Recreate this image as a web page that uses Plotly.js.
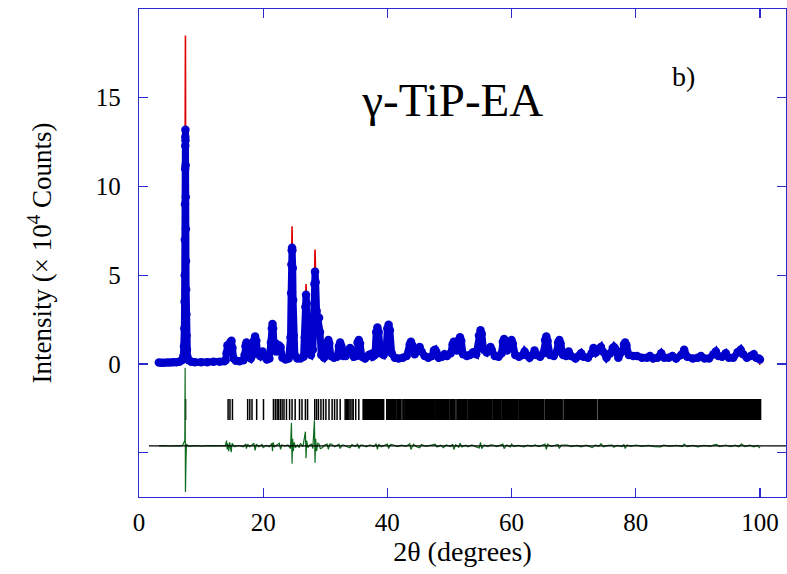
<!DOCTYPE html>
<html>
<head>
<meta charset="utf-8">
<script src="https://cdn.plot.ly/plotly-3.0.1.min.js"></script>
<style>html,body{margin:0;padding:0;background:#fff}#chart{width:787px;height:574px}</style>
</head>
<body>
<div id="chart"></div>
<script>
const obsTheta = [
 3.2,3.6,4.0,4.5,5.0,5.5,6.0,6.5,6.9,7.15,7.25,7.3,7.34,7.37,7.39,7.41,7.43,7.45,7.46,7.48,7.49,7.51,7.53,7.55,7.57,7.59,7.62,7.66,7.72,7.8,8.0,8.4,
 9.0,10.0,11.0,12.0,13.0,13.7,13.95,14.1,14.25,14.45,14.6,14.75,14.9,15.05,15.25,15.6,16.2,16.8,
 17.0,17.15,17.3,17.45,17.65,18.0,18.3,18.5,18.7,18.9,19.1,19.5,19.9,20.2,20.6,21.0,
 21.25,21.4,21.5,21.6,21.75,22.1,22.5,22.8,23.1,23.6,24.1,24.4,24.5,24.55,24.6,24.65,24.7,24.76,24.82,24.9,25.1,25.5,26.0,26.5,
 26.7,26.8,26.9,27.0,27.1,27.3,27.7,28.0,28.15,28.25,28.35,28.45,28.6,28.8,29.0,29.15,29.35,29.8,30.2,30.35,30.5,30.65,30.9,31.4,31.9,
 32.2,32.4,32.6,32.9,33.3,33.8,34.0,34.2,34.6,35.0,35.2,35.4,35.6,35.9,36.4,37.0,37.3,37.6,38.0,38.2,38.4,38.6,38.9,39.4,39.8,40.0,40.2,40.4,40.7,41.2,41.8,42.5,43.1,
 43.6,43.8,44.0,44.4,44.9,45.2,45.5,46.0,46.6,47.2,47.5,47.7,47.9,48.3,48.8,49.2,49.6,50.2,50.5,50.7,50.9,51.2,51.5,51.7,51.9,52.2,52.8,53.3,53.8,54.3,
 54.75,55.0,55.2,55.5,56.0,56.4,56.6,56.8,57.3,57.9,58.4,58.6,58.8,59.0,59.3,59.8,60.0,60.2,60.6,61.2,61.8,62.1,62.4,62.9,63.4,63.7,64.0,64.6,65.1,
 65.4,65.6,65.8,66.2,66.8,67.3,67.5,67.7,67.9,68.3,68.8,69.2,69.6,70.3,70.8,71.2,71.6,72.3,72.9,
 73.2,73.6,74.1,74.4,74.7,75.3,75.9,76.3,76.5,76.7,77.2,77.8,78.1,78.3,78.5,78.9,79.6,80.2,81.0,81.8,82.3,82.8,83.5,84.1,84.6,85.3,85.9,86.5,87.3,87.8,88.3,89.2,90.0,90.5,91.1,91.8,92.5,92.9,93.3,93.9,94.5,95.0,95.7,96.4,96.9,97.3,97.9,98.5,99.0,99.4,99.8,100.0
];
const obsCounts = [
 0.08,0.07,0.07,0.08,0.08,0.09,0.1,0.12,0.2,0.45,1.0,2.0,3.5,5.0,7.0,9.0,11.0,12.3,12.8,13.2,12.6,11.2,9.4,7.6,5.8,4.2,2.8,1.6,0.8,0.4,0.2,0.12,
 0.1,0.1,0.1,0.12,0.12,0.15,0.2,0.6,1.05,0.95,0.9,1.25,1.3,0.9,0.3,0.18,0.15,0.2,
 0.5,1.0,1.2,1.0,0.4,0.3,0.5,1.3,1.55,1.3,0.6,0.45,0.7,0.4,0.25,0.3,
 1.2,2.0,2.25,2.0,1.0,0.7,1.05,0.95,0.35,0.25,0.3,1.5,4.0,5.6,6.4,6.55,6.4,5.4,3.6,1.6,0.5,0.3,0.3,0.4,
 1.5,3.2,3.9,3.4,1.8,0.6,0.5,0.8,2.5,4.5,5.2,4.6,3.0,2.6,2.6,1.8,0.5,0.35,0.6,1.2,1.35,1.15,0.45,0.35,0.4,
 1.0,1.2,1.0,0.45,0.45,0.8,0.9,0.75,0.4,0.45,1.2,1.35,1.15,0.4,0.3,0.5,0.55,0.4,0.5,1.8,2.05,1.8,0.6,0.5,0.8,2.0,2.2,1.9,0.6,0.35,0.3,0.35,0.45,
 1.1,1.25,1.05,0.55,0.75,0.95,0.7,0.45,0.35,0.45,0.75,0.8,0.65,0.35,0.4,0.55,0.45,0.6,1.1,1.25,0.95,0.75,1.35,1.5,1.3,0.55,0.45,0.5,0.65,0.55,
 1.6,1.9,1.7,0.8,0.65,0.85,0.95,0.8,0.45,0.4,0.6,1.25,1.4,1.15,0.75,1.25,1.35,1.15,0.5,0.4,0.5,0.7,0.5,0.35,0.5,0.75,0.5,0.4,0.6,
 1.35,1.55,1.3,0.5,0.45,0.7,1.2,1.35,1.15,0.5,0.45,0.7,0.45,0.3,0.45,0.6,0.4,0.35,0.6,
 0.9,0.65,0.85,0.95,0.7,0.35,0.6,0.9,0.95,0.85,0.35,0.7,1.1,1.2,1.05,0.5,0.45,0.45,0.35,0.35,0.45,0.3,0.35,0.6,0.35,0.35,0.45,0.3,0.5,0.8,0.4,0.3,0.35,0.45,0.3,0.3,0.55,0.7,0.45,0.4,0.6,0.35,0.35,0.65,0.8,0.55,0.35,0.45,0.55,0.35,0.3,0.25
];
// Calculated profile: where it differs from the observed one (peak tips)
const calcPeakTheta  = [7.48, 21.5, 24.65, 26.9, 28.35, 38.4, 43.8, 50.7, 58.8, 67.7, 78.3, 100.0];
const calcPeakCounts = [18.5, 2.35, 7.75, 4.5, 6.45, 2.15, 1.35, 1.35, 1.5, 1.45, 1.3, -0.05];

// Difference curve (obs - calc), relative to its own baseline
const diffTheta = [
 3.2,4.0,5.0,6.0,6.8,7.1,7.3,7.38,7.43,7.46,
 7.48,7.5,7.53,7.57,7.65,8.0,9.0,10.0,11.0,12.0,
 13.0,13.9,14.1,14.2,14.3,14.45,14.6,14.75,14.85,15.0,
 15.1,15.4,16.0,16.8,17.2,17.3,17.5,17.8,18.2,18.5,
 18.7,18.9,19.3,19.8,20.0,20.5,21.0,21.4,21.5,21.6,
 21.8,22.2,22.6,22.8,23.0,23.5,24.0,24.4,24.55,24.65,
 24.75,24.85,25.0,25.2,25.5,25.8,26.0,26.4,26.8,26.9,
 27.0,27.2,27.5,27.8,28.0,28.25,28.35,28.45,28.6,28.8,
 29.0,29.2,29.5,29.9,30.3,30.5,30.7,31.0,31.5,32.2,
 32.4,32.7,33.0,33.5,34.0,34.3,34.8,35.2,35.4,35.7,
 36.0,36.6,37.2,37.8,38.2,38.4,38.6,39.0,39.6,40.0,
 40.2,40.5,41.0,41.6,42.3,43.0,43.6,43.8,44.2,44.7,
 45.2,45.5,46.2,47.0,47.7,48.0,48.6,49.0,49.5,50.2,
 50.5,50.7,51.0,51.5,51.7,52.0,52.6,53.0,53.6,54.2,
 54.8,55.0,55.2,55.6,56.2,56.6,57.0,57.6,58.2,58.6,
 58.8,59.2,59.8,60.0,60.4,61.0,62.0,62.6,63.2,63.8,
 64.4,65.0,65.4,65.6,65.8,66.4,67.0,67.5,67.7,68.0,
 69.0,69.6,70.5,71.2,72.0,73.0,73.5,74.0,74.4,74.8,
 75.5,76.2,76.5,77.0,77.8,78.1,78.3,78.6,79.2,80.0,
 81.0,82.0,83.0,84.0,84.5,85.5,86.5,87.5,87.8,88.3,
 89.2,90.0,91.0,92.0,92.6,93.0,93.5,94.5,95.3,96.0,
 96.6,97.0,97.6,98.4,99.0,99.6,100.0
];
const diffCounts = [
 0,0.02,-0.02,0.02,0,0.08,0.25,0.3,4.4,-1.0,
 -2.6,1.5,-1.5,-0.8,0.1,-0.03,0.02,-0.02,0.02,0,
 0.02,0,0.3,-0.2,0.15,-0.3,0.2,-0.1,-0.35,0.15,
 0.1,-0.05,0.02,-0.05,0.12,-0.15,0.1,-0.05,0.05,0.15,
 -0.25,0.1,-0.05,0.08,-0.1,0.03,-0.05,0.15,-0.3,0.2,
 -0.05,0.05,0.15,-0.2,0.05,0,0.05,-0.15,1.3,-1.0,
 0.4,-0.3,0.2,-0.1,0.05,-0.1,0.15,-0.05,0.8,-0.7,
 0.3,-0.1,0.05,0.1,-0.15,1.45,-0.95,0.4,-0.3,0.15,
 0.1,-0.15,-0.1,0.05,0.1,-0.2,0.1,0.1,-0.05,0.1,
 -0.15,0.05,0.05,-0.05,-0.1,0.08,-0.03,0.1,-0.15,0.05,
 0.05,-0.05,0.06,-0.04,0.12,-0.2,0.1,-0.05,0.05,0.1,
 -0.15,0.08,0.05,-0.04,0.04,-0.03,0.12,-0.2,0.1,-0.05,
 -0.1,0.08,-0.03,0.04,0.1,-0.06,0.04,-0.1,0.05,-0.04,
 0.1,-0.2,0.06,-0.08,0.15,-0.06,0.04,-0.05,0.06,-0.04,
 -0.12,0.2,-0.15,0.05,-0.04,0.06,0.05,-0.04,0.04,0.1,
 -0.15,0.05,-0.06,0.1,-0.04,0.03,-0.05,0.04,-0.03,0.05,
 -0.04,0.03,0.1,-0.2,0.1,-0.03,0.04,0.08,-0.15,0.05,
 0.05,-0.04,0.03,-0.05,0.04,-0.1,0.05,-0.04,0.12,-0.05,
 0.03,0.05,-0.08,0.03,-0.04,0.08,-0.15,0.05,-0.03,0.05,
 -0.03,0.03,-0.04,-0.05,0.04,-0.03,0.03,-0.04,0.1,-0.04,
 0.03,-0.05,0.03,-0.03,0.06,0.08,-0.04,0.05,-0.04,0.04,
 -0.05,0.1,-0.04,0.04,-0.05,0.03,-0.12
];

// Bragg reflection positions: well separated (low angle) and crowded (high angle)
const braggThetaSparse = [7.5,14.35,14.65,15.05,17.5,17.85,18.2,18.95,20.05,21.65,21.95,22.25,22.45,22.75,23.05,23.35,23.75,24.25,24.65,25.15,25.85,26.25,26.8,27.15,28.3,28.6,28.9,29.3,29.7,30.1,30.6,31.1,31.5,31.9,32.4,33.2,33.4,33.6,33.8,34.0,34.3,34.5,34.9,35.4];
const braggThetaDense = [36.2,36.4,36.6,36.8,37.0,37.2,37.4,37.6,37.8,38.0,38.2,38.4,38.6,38.8,39.0,39.3,40.0,40.2,40.4,40.6,40.8,41.0,41.3,41.7,42.1,42.6,43.0,43.2,43.4,43.6,43.8,44.0,44.2,44.4,44.6,44.8,45.0,45.2,45.4,45.6,45.8,46.0,46.2,46.4,46.6,46.8,47.0,47.2,47.4,47.6,48.0,48.2,48.4,48.6,48.8,49.0,49.2,49.4,49.6,49.8,50.2,50.6,50.8,51.3,51.5,51.7,51.9,52.1,52.3,52.5,52.7,53.1,53.3,
 53.5,53.75,54.0,54.25,54.5,54.75,55.0,55.25,55.5,55.75,56.0,56.25,56.5,56.75,57.15,57.4,57.65,57.9,58.15,58.55,58.8,59.05,59.45,59.7,59.95,60.2,60.45,60.7,60.95,61.35,61.6,61.85,62.1,62.35,62.6,62.85,63.1,63.35,63.6,63.85,64.1,64.35,64.6,64.85,65.1,65.55,65.8,66.05,66.3,66.55,66.8,67.05,67.3,67.55,67.8,68.05,68.55,68.8,69.05,69.3,69.55,69.8,70.05,70.3,70.55,70.8,71.05,71.3,71.55,71.8,72.05,72.3,72.55,72.8,73.05,73.3,73.55,74.05,74.3,74.55,74.8,75.05,75.3,75.55,75.8,76.05,76.3,76.55,76.8,77.05,77.3,77.55,77.8,78.05,78.3,78.55,78.8,79.05,79.3,79.55,79.8,80.05,80.3,80.55,80.8,81.05,81.3,81.55,81.8,82.05,82.3,82.55,82.8,83.05,83.3,83.55,83.8,84.05,84.3,84.55,84.8,85.05,85.3,85.55,85.8,86.05,86.3,86.55,86.8,87.05,87.3,87.55,87.8,88.05,88.3,88.55,88.8,89.05,89.3,89.55,89.8,90.05,90.3,90.55,90.8,91.05,91.3,91.55,91.8,92.05,92.3,92.55,92.8,93.05,93.3,93.55,93.8,94.05,94.3,94.55,94.8,95.05,95.3,95.55,95.8,96.05,96.3,96.55,96.85,97.1,97.35,97.6,97.85,98.1,98.35,98.6,98.85,99.1,99.35,99.6,99.85,100.0
];

const xTicks = [0, 20, 40, 60, 80, 100];
const yTicks = [-5, 0, 5, 10, 15, 20];
const yTickText = ['', '0', '5', '10', '15', ''];

// placement offsets (styling)
const DIFF_OFFSET = -4.62;
const TICK_ROW = -2.57;

const calcCounts = obsTheta.map((t, i) => {
  const k = calcPeakTheta.indexOf(t);
  return k >= 0 ? calcPeakCounts[k] : obsCounts[i];
});

const AX = '#2a2ad0';
const FONT = 'Liberation Serif, DejaVu Serif, serif';

function tickTrace(xs, w) {
  return { x: xs, y: xs.map(() => TICK_ROW), type: 'scatter', mode: 'markers',
    marker: { symbol: 'line-ns', size: 15, color: '#000', line: { color: '#000', width: w } },
    hoverinfo: 'skip', showlegend: false };
}

const traces = [
  tickTrace(braggThetaSparse, 1.5),
  tickTrace(braggThetaDense, 2.8),
  { x: diffTheta, y: diffCounts.map(v => v + DIFF_OFFSET), type: 'scatter', mode: 'lines',
    line: { color: '#0d6b1e', width: 1.2 }, showlegend: false },
  { x: obsTheta, y: calcCounts, type: 'scatter', mode: 'lines',
    line: { color: '#e00000', width: 1.6 }, showlegend: false },
  { x: obsTheta, y: obsCounts, type: 'scatter', mode: 'lines+markers',
    line: { color: '#0000cc', width: 7 },
    marker: { color: '#0000cc', size: 8.5 }, showlegend: false }
];

const layout = {
  width: 787, height: 574,
  margin: { l: 139, r: 1, t: 9, b: 77 },
  paper_bgcolor: '#fff', plot_bgcolor: '#fff',
  font: { family: FONT, color: '#000', size: 25 },
  showlegend: false,
  title: { text: 'γ-TiP-EA', font: { family: FONT, size: 47, color: '#000' },
           xref: 'paper', yref: 'paper', x: 0.485, y: 0.815, xanchor: 'center', yanchor: 'middle' },
  xaxis: {
    range: [0, 104.2], tickvals: xTicks, ticks: 'inside', ticklen: 9, tickwidth: 1.2,
    tickcolor: AX, showline: true, linecolor: AX, linewidth: 1.2, mirror: 'ticks',
    showgrid: false, zeroline: false, tickfont: { family: FONT, size: 25 }, ticklabelstandoff: 3,
    title: { text: '2θ (degrees)', font: { family: FONT, size: 28 }, standoff: 5 }
  },
  yaxis: {
    range: [-7.5, 20], tickvals: yTicks, ticktext: yTickText, ticks: 'inside', ticklen: 9, tickwidth: 1.2,
    tickcolor: AX, showline: true, linecolor: AX, linewidth: 1.2, mirror: 'ticks',
    showgrid: false, zeroline: false, tickfont: { family: FONT, size: 25 }, ticklabelstandoff: 12,
    title: { text: 'Intensity (× 10<sup>4</sup> Counts)', font: { family: FONT, size: 27 }, standoff: 36 }
  },
  shapes: [
    { type: 'line', xref: 'x', yref: 'y', x0: 1.6, x1: 104.2, y0: DIFF_OFFSET, y1: DIFF_OFFSET,
      line: { color: '#000', width: 1.1 }, layer: 'above' }
  ],
  annotations: [
    { text: 'b)', xref: 'paper', yref: 'paper', x: 0.841, y: 0.862, showarrow: false,
      xanchor: 'center', yanchor: 'middle', font: { family: FONT, size: 28, color: '#000' } }
  ]
};

Plotly.newPlot('chart', traces, layout, { staticPlot: true, displayModeBar: false });
</script>
</body>
</html>
